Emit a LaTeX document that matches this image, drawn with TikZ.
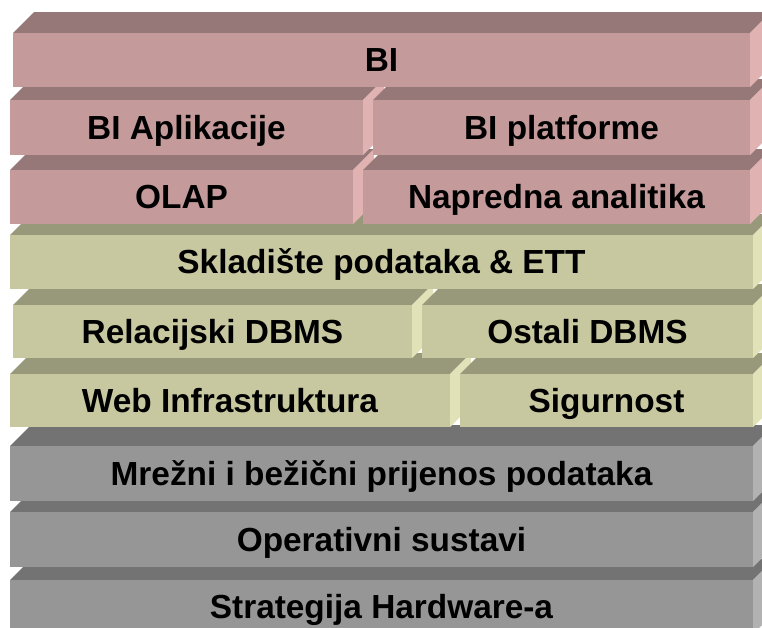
\documentclass[tikz,border=0pt]{standalone}
\usepackage{fontspec}
\setmainfont{Liberation Sans}
\usepackage{tikz}
\usetikzlibrary{calc}

\definecolor{pinkfront}{HTML}{C49A9A}
\definecolor{pinktop}{HTML}{967878}
\definecolor{pinkside}{HTML}{E0B2B2}
\definecolor{greenfront}{HTML}{C8C8A0}
\definecolor{greentop}{HTML}{98987A}
\definecolor{greenside}{HTML}{E2E2B8}
\definecolor{grayfront}{HTML}{969696}
\definecolor{graytop}{HTML}{737373}
\definecolor{grayside}{HTML}{B2B2B2}

\tikzset{
  slabfront/.style={rectangle, inner sep=0pt, outer sep=0pt,
    text height=17.6pt, text depth=4pt,
    font=\fontsize{19}{22}\selectfont\bfseries, text=black}
}

% #1 name, #2 left, #3 right, #4 top, #5 bottom, #6 colour, #7 text
\newcommand{\slab}[7]{%
  \fill[#6top] (#2,#4) -- (#2+21,#4-21) -- (#3+21,#4-21) -- (#3,#4) -- cycle;
  \fill[#6side] (#3,#4) -- (#3+21,#4-21) -- (#3+21,#5-21) -- (#3,#5) -- cycle;
  \node[slabfront, fill=#6front, minimum width={(#3-#2)*0.02cm},
    minimum height={(#5-#4)*0.02cm}] (#1) at ({(#2+#3)/2},{(#4+#5)/2}) {#7};
}

\begin{document}
\begin{tikzpicture}[x=0.02cm, y=-0.02cm]
        \useasboundingbox (0,0) rectangle (762,627);
        \clip (0,0) rectangle (762,627);

        % hardware layers
        \slab{hw}{10}{753}{580}{634}{gray}{Strategija Hardware-a}
        \slab{os}{10}{753}{512}{567}{gray}{Operativni sustavi}
        \slab{mreza}{10}{753}{446}{501}{gray}{Mrežni i bežični prijenos podataka}

        % data layers
        \slab{web}{10}{450}{374}{427}{green}{Web Infrastruktura}
        \slab{sig}{460}{753}{374}{427}{green}{Sigurnost}
        \slab{rdbms}{13}{412}{305}{358}{green}{Relacijski DBMS}
        \slab{ostali}{422}{753}{305}{358}{green}{Ostali DBMS}
        \slab{dw}{10}{753}{235}{289}{green}{Skladište podataka \& ETT}

        % BI layers
        \slab{olap}{10}{353}{170}{224}{pink}{OLAP}
        \slab{analitika}{363}{750}{170}{224}{pink}{Napredna analitika}
        \slab{apl}{10}{363}{100}{155}{pink}{BI Aplikacije}
        \slab{platforme}{373}{750}{100}{155}{pink}{BI platforme}
        \slab{bi}{13}{750}{33}{87}{pink}{BI}
\end{tikzpicture}
\end{document}
